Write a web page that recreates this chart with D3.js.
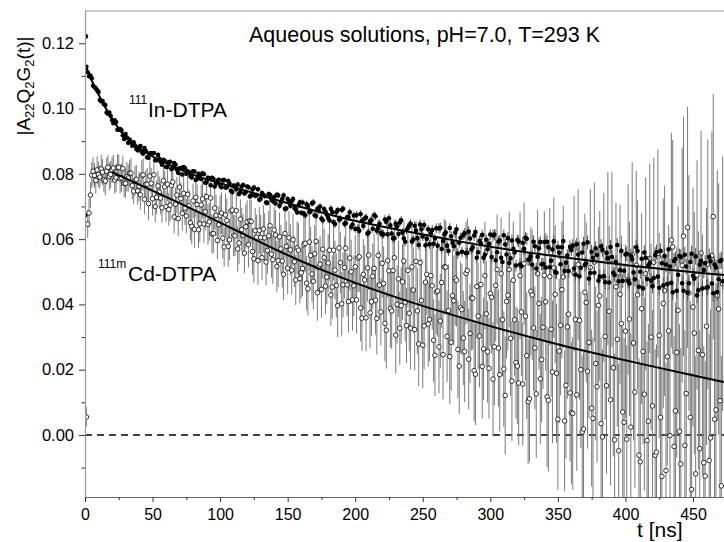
<!DOCTYPE html>
<html><head><meta charset="utf-8">
<script src="https://cdn.jsdelivr.net/npm/d3@7/dist/d3.min.js"></script>
<style>
body{margin:0;background:#fff}
svg{display:block}
text{font-family:"Liberation Sans",Arial,Helvetica,sans-serif;fill:#000}
</style>
</head><body>
<svg id="chart" width="724" height="542"></svg>
<script>
// ---- data (values in units of 1e-4) ----
const tStart = 1;          // first time channel [ns]
const tStep = 1;           // channel width [ns]
const valueUnit = 1e-4;

// 111In-DTPA (filled circles)
const inValues = [
1128,1111,1099,1101,1093,1070,1066,1062,1056,1051,1026,1022,1023,1013,1011,988,984,988,977,965,
955,964,959,935,935,937,933,918,907,922,911,895,905,897,886,897,887,876,872,882,
885,867,862,879,870,851,849,863,863,863,864,842,842,858,846,837,828,843,840,821,
821,835,837,815,819,833,828,813,803,817,818,798,821,817,800,808,805,793,789,808,
807,781,785,800,793,784,802,799,773,774,788,785,765,788,785,761,771,779,782,764,
759,780,781,758,759,778,770,748,744,764,760,753,767,738,744,761,766,740,744,761,
759,731,734,752,758,733,735,753,721,724,741,736,732,712,711,738,735,721,716,730,
709,736,734,702,712,723,734,693,694,723,715,702,717,723,695,691,682,704,713,681,
712,678,673,707,701,683,685,710,712,673,671,693,687,700,663,658,692,684,675,665,
657,693,683,652,646,682,689,660,662,690,693,647,649,667,667,682,637,645,672,631,
674,632,626,677,656,640,663,666,617,620,655,658,632,673,670,626,633,647,619,614,
615,660,653,615,664,642,617,602,603,647,639,616,651,658,620,602,592,628,635,642,
647,593,599,641,626,603,582,645,630,608,643,581,601,630,584,618,628,586,602,633,
580,633,635,570,594,615,620,580,564,634,609,588,578,620,630,556,589,604,561,613,
618,557,558,623,602,568,575,611,622,543,560,594,587,613,543,552,598,569,586,614,
545,611,614,535,560,592,596,543,530,612,584,553,603,527,541,596,570,559,519,597,
593,522,517,589,570,604,601,537,538,547,522,592,578,510,546,572,591,523,524,591,
513,592,575,514,534,568,593,499,497,576,558,523,575,594,502,528,550,502,576,567,
580,510,491,584,553,486,512,559,586,521,525,590,479,496,561,543,497,572,551,473,
485,578,567,487,468,558,542,467,576,546,497,490,529,582,471,505,564,472,503,553,
555,472,464,549,538,498,477,575,564,454,500,540,449,559,543,478,520,527,473,456,
481,551,560,485,451,564,526,458,548,522,462,569,516,466,437,533,539,442,491,548,
545,465,442,552,516,436,465,530,555,488,479,547,428,443,522,533,449,505,526,451,
453,545,532,464,434,522,513,438,477,532,536,471];
const inErrors = [
4,5,5,4,4,5,5,4,4,5,5,4,5,5,4,5,5,4,4,5, 5,4,4,5,5,4,5,5,4,5,5,4,5,5,4,5,5,5,5,4,
5,6,6,5,5,6,6,5,5,6,6,5,6,6,5,6,6,5,5,6, 6,6,6,7,7,6,6,7,6,6,7,6,6,7,7,6,6,7,6,6,
7,6,6,7,7,7,7,6,6,7,7,7,7,6,6,7,7,6,7,7, 7,8,8,7,7,8,8,7,8,8,7,8,8,7,7,8,8,7,8,8,
8,8,9,8,8,9,8,8,9,9,8,8,9,9,8,8,8,9,9,8, 9,9,9,10,10,9,9,10,9,9,10,9,9,10,10,9,9,10,9,9,
10,11,10,10,11,10,10,11,11,10,10,11,10,10,11,11,10,11,11,10, 11,12,11,11,12,11,11,12,12,11,11,12,12,11,11,12,11,11,12,12,
12,13,12,12,13,12,12,13,13,12,12,13,13,12,12,13,13,12,12,13, 13,14,13,13,14,13,13,14,14,13,13,14,14,13,13,14,14,13,13,14,
14,15,14,14,15,14,14,15,15,14,14,15,15,14,14,15,15,14,15,15, 15,16,15,15,16,15,15,16,16,15,15,16,16,15,16,16,15,16,16,15,
16,17,16,16,17,16,16,17,17,16,16,17,17,16,17,17,16,17,17,16, 17,18,17,17,18,17,17,18,18,17,17,18,18,17,18,18,17,18,18,17,
18,19,18,18,19,18,18,19,19,18,18,19,19,18,19,19,18,19,19,18, 19,20,19,19,20,19,19,20,20,19,19,20,20,19,20,20,19,20,20,19,
20,21,20,20,21,20,20,21,21,20,20,21,21,20,21,21,20,21,21,20, 21,22,21,21,22,21,21,22,22,21,21,22,22,21,22,22,21,22,22,21,
22,23,22,22,23,22,22,23,23,22,22,23,23,22,23,23,22,23,23,22, 23,24,23,23,24,23,23,24,24,23,23,24,24,23,24,24,23,24,24,23,
24,25,24,24,25,24,24,25,25,24,24,25,25,24,25,25,24,25,25,24, 25,26,25,25,26,25,25,26,26,25,26,25];
const inExtraT = [0, 0.6];
const inExtraV = [673, 1221];

// 111mCd-DTPA (open circles)
const cdValues = [
55,646,680,735,796,808,795,780,812,798,790,815,805,782,778,808,820,792,798,812,
818,781,788,819,820,785,788,816,770,771,791,787,802,802,764,747,778,783,748,762,
736,794,797,722,768,768,709,793,771,724,797,700,728,763,744,726,696,779,760,700,
768,691,704,764,775,668,707,735,663,759,724,679,740,695,671,737,702,650,639,717,
630,728,706,629,647,705,723,646,684,730,645,653,726,616,617,695,673,596,644,672,
680,603,576,674,657,578,598,686,689,612,610,687,570,588,661,629,612,557,638,653,
583,656,654,562,540,626,606,534,627,605,543,631,604,530,565,610,641,554,537,628,
613,516,534,607,570,533,492,617,578,511,604,567,505,598,531,475,573,566,479,497,
510,583,587,465,448,591,550,493,471,555,593,436,515,523,446,569,543,456,484,527,
566,429,453,566,505,458,396,573,528,402,460,513,572,460,409,542,500,414,457,515,
414,542,546,389,358,492,475,359,512,551,374,408,486,510,413,357,550,459,377,526,
464,342,321,534,503,387,380,504,543,306,400,478,327,396,469,533,407,335,504,373,
327,515,444,323,532,380,279,528,412,275,334,468,492,340,354,488,457,290,244,438,
441,270,349,467,246,515,514,302,381,240,284,427,411,480,474,262,211,390,384,297,
256,495,504,232,311,420,419,197,186,455,364,303,461,210,264,488,371,255,204,433,
422,171,270,458,507,266,185,494,353,202,121,409,428,507,296,165,474,353,222,211,
159,488,377,156,525,364,243,102,111,440,429,328,267,126,494,403,172,231,330,489,
408,117,106,485,324,193,512,431,189,48,257,336,445,484,43,152,331,370,129,68,
66,495,354,123,522,351,200,9,18,437,406,195,284,513,82,51,530,219,148,397,
426,35,-6,483,302,151,540,379,108,537,206,-15,454,293,-48,431,341,70,39,318,
-13,476,355,24,553,282,131,520,429,-62,-82,387,256,125,494,-17,42,541,300,89,
529,-62,-53,556,305,54,-127,403,442,-109,240,319,-2,597,576,-35,74,253,382,11,
-89,520,609,-32,127,636,435,54,-167,392,312,-119,490,259,-42,557,246,-85,-126,333,
523,-78,-9,550,669,48,77,427,386,105,-156,463];
const cdErrors = [
30,42,45,40,40,43,38,41,42,39,36,44,40,38,44,41,38,43,41,40,
40,42,44,41,39,45,43,40,41,44,45,42,40,46,42,39,46,44,43,45,
46,48,49,45,44,50,50,47,47,52,45,48,51,46,48,50,46,49,50,47,
52,50,49,54,55,51,51,56,54,50,50,53,56,52,53,55,49,54,55,53,
57,59,61,56,55,62,60,57,58,61,62,58,56,60,59,64,63,58,57,61,
64,62,60,66,67,63,62,68,66,64,63,69,69,65,61,67,65,62,68,66,
70,72,67,71,73,69,69,74,72,70,68,73,75,71,71,76,66,72,74,70,
76,78,80,75,74,81,79,76,77,80,82,78,75,80,78,77,81,83,76,79,
84,86,88,83,82,89,87,85,85,88,90,86,83,87,86,91,89,85,84,88,
93,95,97,92,90,98,96,94,94,97,99,95,92,96,95,100,98,94,93,97,
103,105,107,102,100,108,106,103,104,107,109,105,101,107,105,110,110,104,102,106,
114,116,118,113,111,119,117,114,115,118,120,116,112,118,116,121,121,115,113,117,
126,128,131,125,123,132,129,126,127,131,133,128,124,130,128,135,134,127,125,130,
140,142,145,139,137,146,143,140,141,145,148,142,138,144,142,149,147,141,139,144,
155,158,160,154,152,161,158,155,156,160,163,157,153,159,157,165,162,156,154,160,
172,175,178,171,168,179,175,172,173,177,181,174,169,177,176,183,180,173,171,177,
190,194,197,189,187,198,194,191,192,196,200,193,188,196,195,202,199,192,189,196,
211,215,218,210,207,219,215,212,213,217,221,214,209,218,216,223,220,213,210,217,
234,238,242,233,230,243,239,235,236,241,245,237,232,241,240,247,244,236,233,240,
260,264,268,259,255,270,265,261,262,268,272,264,257,267,266,274,270,262,258,266,
288,292,297,287,283,299,293,289,290,297,301,292,285,296,295,303,299,290,286,294,
320,325,330,318,314,332,326,321,322,330,334,325,316,329,328,337,332,322,318,328,
355,360,366,353,349,369,361,356,357,366,371,360,351,365,363,374,368,357,353,363,
382,388,394,380,376,392,389,384,385,393,398,390];

// fit curves
const inFitT = [1,5,10,15,20,25,33,46,58,70,83,95,107,120,140,160,180,200,233,270,307,345,381,420,473];
const inFitV = [1125,1085,1042,1004,968,938,897,862,835,814,792,777,763,747,722,698,676,655,628,598,571,549,530,511,490];
const cdFitT = [20,45,70,95,120,140,160,181,210,240,270,300,330,360,390,420,450,473];
const cdFitV = [805,758,711,661,610,570,532,496,450,408,370,333,299,267,238,210,183,162];

// axes
const xMajorTicks = [0,50,100,150,200,250,300,350,400,450];
const xMinorTicks = [25,75,125,175,225,275,325,375,425];
const yMajorTicks = [0,0.02,0.04,0.06,0.08,0.10,0.12];
const yMinorTicks = [-0.01,0.01,0.03,0.05,0.07,0.09,0.11];

// ---- drawing ----
const svg = d3.select('#chart');
const W = 724;
const plot = {left:85, top:11, bottom:497};
const x = d3.scaleLinear().domain([0, 474]).range([plot.left, plot.left + 640.4]);
const y = d3.scaleLinear().domain([-0.019, 0.1301]).range([plot.bottom, 10.3]);
const tOf = i => tStart + i * tStep;

const inPts = inValues.map((v,i)=>({t:tOf(i), v, e:inErrors[i] || 0}));
const cdPts = cdValues.map((v,i)=>({t:tOf(i), v, e:cdErrors[i] || 0}));

svg.append('defs').append('clipPath').attr('id','clip')
  .append('rect').attr('x', plot.left).attr('y', plot.top)
  .attr('width', W - plot.left).attr('height', plot.bottom - plot.top);

const g = svg.append('g').attr('clip-path','url(#clip)');

// zero line
g.append('line')
  .attr('x1', x(0)).attr('x2', x(474)).attr('y1', y(0)).attr('y2', y(0))
  .attr('stroke','#000').attr('stroke-width',1.4).attr('stroke-dasharray','7,5');

// Cd error bars
g.append('g').selectAll('line').data(cdPts).join('line')
  .attr('x1',d=>x(d.t)).attr('x2',d=>x(d.t))
  .attr('y1',d=>y((d.v + d.e) * valueUnit))
  .attr('y2',d=>y((d.v - d.e) * valueUnit))
  .attr('stroke','#7a7a7a').attr('stroke-width',1);

// Cd points
g.append('g').selectAll('circle').data(cdPts).join('circle')
  .attr('cx',d=>x(d.t)).attr('cy',d=>y(d.v * valueUnit)).attr('r',2.3)
  .attr('fill','#fff').attr('stroke','#000').attr('stroke-width',0.8);

// In error bars
g.append('g').selectAll('line').data(inPts).join('line')
  .attr('x1',d=>x(d.t)).attr('x2',d=>x(d.t))
  .attr('y1',d=>y((d.v + d.e) * valueUnit))
  .attr('y2',d=>y((d.v - d.e) * valueUnit))
  .attr('stroke','#555').attr('stroke-width',1);

// In points
g.append('g').selectAll('circle').data(inPts).join('circle')
  .attr('cx',d=>x(d.t)).attr('cy',d=>y(d.v * valueUnit)).attr('r',2.3)
  .attr('fill','#000');
g.append('g').selectAll('circle').data(inExtraV).join('circle')
  .attr('cx',(d,i)=>x(inExtraT[i])).attr('cy',d=>y(d * valueUnit)).attr('r',2.4)
  .attr('fill','#000');

// fit lines
const line = d3.line().curve(d3.curveBasis);
g.append('path')
  .attr('d', line(inFitT.map((t,i)=>[x(t), y(inFitV[i]*valueUnit)])))
  .attr('fill','none').attr('stroke','#000').attr('stroke-width',2);
g.append('path')
  .attr('d', line(cdFitT.map((t,i)=>[x(t), y(cdFitV[i]*valueUnit)])))
  .attr('fill','none').attr('stroke','#000').attr('stroke-width',2);

// frame top line
svg.append('line').attr('x1', plot.left).attr('x2', W).attr('y1', plot.top).attr('y2', plot.top)
  .attr('stroke','#999').attr('stroke-width',1.2);

// axes
const yAxis = svg.append('g').attr('transform',`translate(${plot.left},0)`)
  .call(d3.axisLeft(y).tickValues(yMajorTicks).tickFormat(d3.format('.2f'))
        .tickSize(6).tickSizeOuter(0).tickPadding(5));
yAxis.select('.domain').attr('stroke','#999').attr('stroke-width',1.2);
yAxis.selectAll('.tick line').attr('stroke','#333');
yAxis.selectAll('text').style('font-size','16.5px');
const yMinor = svg.append('g').attr('transform',`translate(${plot.left},0)`)
  .call(d3.axisLeft(y).tickValues(yMinorTicks).tickFormat('').tickSize(3.5).tickSizeOuter(0));
yMinor.select('.domain').remove();
yMinor.selectAll('.tick line').attr('stroke','#333');

const xAxis = svg.append('g').attr('transform',`translate(0,${plot.bottom})`)
  .call(d3.axisBottom(x).tickValues(xMajorTicks).tickFormat(d3.format('d'))
        .tickSize(5).tickSizeOuter(0).tickPadding(7));
xAxis.select('.domain').attr('stroke','#666').attr('stroke-width',1.2);
xAxis.selectAll('.tick line').attr('stroke','#333');
xAxis.selectAll('text').style('font-size','16px');
const xMinor = svg.append('g').attr('transform',`translate(0,${plot.bottom})`)
  .call(d3.axisBottom(x).tickValues(xMinorTicks).tickFormat('').tickSize(3).tickSizeOuter(0));
xMinor.select('.domain').remove();
xMinor.selectAll('.tick line').attr('stroke','#333');
svg.selectAll('.tick text').attr('fill','#000');

// titles / labels
svg.append('text').attr('x',249).attr('y',42).style('font-size','21.5px')
  .text('Aqueous solutions, pH=7.0, T=293 K');

svg.append('text').attr('x',637).attr('y',537).style('font-size','21px').text('t [ns]');

const yt = svg.append('text').attr('transform','translate(29.5,86) rotate(-90)')
  .attr('text-anchor','middle').style('font-size','19px');
yt.append('tspan').text('|A');
yt.append('tspan').attr('dy',4).style('font-size','13px').text('22');
yt.append('tspan').attr('dy',-4).text('Q');
yt.append('tspan').attr('dy',4).style('font-size','13px').text('2');
yt.append('tspan').attr('dy',-4).text('G');
yt.append('tspan').attr('dy',4).style('font-size','13px').text('2');
yt.append('tspan').attr('dy',-4).text('(t)|');

svg.append('text').attr('x',129).attr('y',104).style('font-size','12px').text('111');
svg.append('text').attr('x',148).attr('y',117).style('font-size','21px').text('In-DTPA');
svg.append('text').attr('x',98).attr('y',268).style('font-size','12px').text('111m');
svg.append('text').attr('x',128).attr('y',280.5).style('font-size','21px').text('Cd-DTPA');
</script>
</body></html>
